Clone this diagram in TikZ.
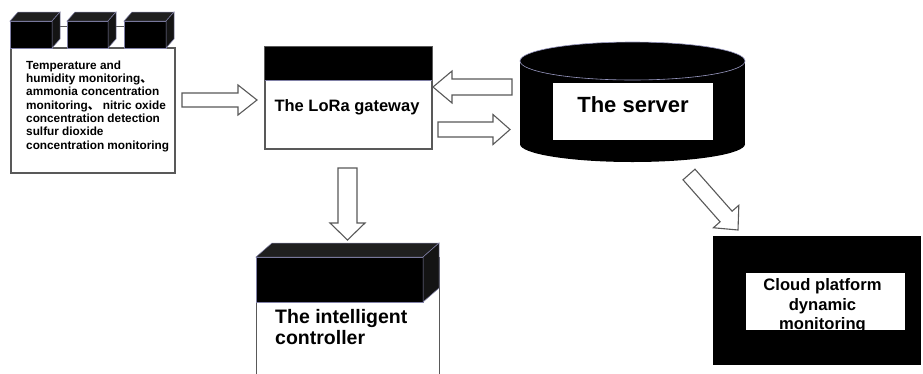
\documentclass[tikz,border=0pt]{standalone}
\usepackage{fontspec}
\setmainfont{Liberation Sans}
\newfontfamily\cjk{Noto Sans CJK SC}
\usetikzlibrary{calc}
\tikzset{
  boxline/.style={draw=gray!70!black, line width=1.2pt, fill=white},
  blackpart/.style={fill=black, draw=black!70!blue!50, line width=0.5pt},
  topface/.style={fill=black!88, draw=black!70!blue!50, line width=0.5pt},
  sideface/.style={fill=black!92, draw=black!70!blue!50, line width=0.5pt},
  barrow/.style={draw=gray!70!black, line width=1.1pt, fill=white, line join=miter},
  lbl/.style={font=\bfseries\fontsize{#1}{#1}\selectfont, inner sep=0pt},
  conn/.style={draw=gray!70!black, line width=0.8pt}
}
\newcommand\blockarr[5]{%
  \coordinate (#1-b) at ($(#2)!#5!(#1)$);
  \draw[barrow] ($(#1)!#3!90:(#2)$) -- ($(#1-b)!#3!-90:(#1)$) -- ($(#1-b)!#4!-90:(#1)$)
    -- (#2) -- ($(#1-b)!#4!90:(#1)$) -- ($(#1-b)!#3!90:(#1)$) -- ($(#1)!#3!-90:(#2)$) -- cycle;}
\newcommand\sensorcube[3]{%
  \coordinate (#1) at (#2,21);
  \path[blackpart] (#2,21) rectangle ++(#3,27);
  \path[topface] (#2,21) -- ++(8,-9) -- ++(#3,0) -- ++(-8,9) -- cycle;
  \path[sideface] (#2+#3,21) -- ++(8,-9) -- ++(0,27) -- ++(-8,9) -- cycle;}
\begin{document}
\begin{tikzpicture}[x=1pt,y=-1pt]
\useasboundingbox (0,0) rectangle (923,373);
\fill[white] (0,0) rectangle (923,373);

% sensor box
\draw[boxline] (11,48) rectangle (175,173);
\draw[conn] (20,26) -- (170,26);
\sensorcube{c1}{10}{42}
\sensorcube{c2}{67}{41}
\sensorcube{c3}{124}{42}
\node (sensortxt) [font=\bfseries\fontsize{11.8}{13.3}\selectfont, inner sep=0pt, align=left, anchor=base west] at (26,149.1)
  {Temperature and\\humidity monitoring{\cjk 、}\\ammonia concentration\\monitoring{\cjk 、} nitric oxide\\concentration detection\\sulfur dioxide\\concentration monitoring};

% gateway
\node (gateway) [boxline, minimum width=167pt, minimum height=102pt, inner sep=0pt] at (348.5,98) {};
\path[blackpart] (gateway.north west) rectangle ($(gateway.north east)+(0,34)$);
\draw[draw=gray!70!black, line width=1.2pt] (gateway.north west) rectangle (gateway.south east);
\node (gwtxt) [lbl=16.5, anchor=base] at (347,111) {The LoRa gateway};

% server
\fill[black] (632.5,61) ellipse [x radius=112.5, y radius=19];
\fill[black] (520,61) rectangle (745,144);
\fill[black] (632.5,144) ellipse [x radius=112.5, y radius=18];
\draw[black!60!blue!40, line width=0.6pt] (632.5,61) ellipse [x radius=112.5, y radius=19];
\node (server) [fill=white, minimum width=160pt, minimum height=57pt, inner sep=0pt] at (633,111.5) {};
\node (servertxt) [lbl=22, anchor=base] at (633,112) {The server};

% controller
\node (ctrl) [boxline, minimum width=183pt, minimum height=130pt, inner sep=0pt, anchor=north west] at (256,257) {};
\path[blackpart] (256,257) rectangle (423,302);
\path[topface] (256,257) -- (272,243) -- (439,243) -- (423,257) -- cycle;
\path[sideface] (423,257) -- (439,243) -- (439,288) -- (423,302) -- cycle;
\node (ctrltxt) [font=\bfseries\fontsize{19.5}{21}\selectfont, inner sep=0pt, align=left, anchor=base west] at (275,344.3) {The intelligent\\controller};

% cloud
\node (cloud) [fill=black, minimum width=208pt, minimum height=129pt, inner sep=0pt, anchor=north west] at (713,236) {};
\node (cloudin) [fill=white, minimum width=159pt, minimum height=57pt, inner sep=0pt, anchor=north west] at (746,273) {};
\node (cloudtxt) [font=\bfseries\fontsize{16.6}{19.5}\selectfont, inner sep=0pt, align=center, anchor=base] at (822.5,329.7) {Cloud platform\\dynamic\\monitoring};

% arrows
\coordinate (a1t) at (182,100);   \coordinate (a1h) at (257,100);
\coordinate (a2t) at (438,129.5); \coordinate (a2h) at (510,129.5);
\coordinate (a3t) at (512,87);    \coordinate (a3h) at (433,87);
\coordinate (a4t) at (347.5,168); \coordinate (a4h) at (347.5,240);
\coordinate (a5t) at (689,174.5); \coordinate (a5h) at (738,230);
\blockarr{a1t}{a1h}{7pt}{15pt}{19pt}
\blockarr{a2t}{a2h}{7.5pt}{15pt}{17pt}
\blockarr{a3t}{a3h}{8pt}{16pt}{19pt}
\blockarr{a4t}{a4h}{9.5pt}{17.5pt}{17pt}
\blockarr{a5t}{a5h}{8pt}{17pt}{18pt}
\end{tikzpicture}
\end{document}
